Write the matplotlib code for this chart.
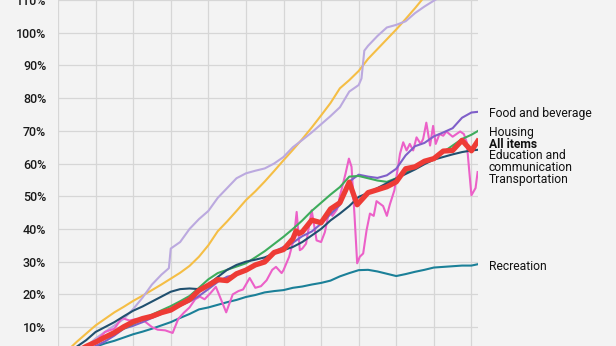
import matplotlib
matplotlib.use('Agg')
import matplotlib.pyplot as plt
import matplotlib.transforms as mtransforms
import numpy as np

# cumulative % change in US CPI components since Jan 1993
half_years = [1993.0, 1993.5, 1994.0, 1994.5, 1995.0, 1995.5, 1996.0, 1996.5,
              1997.0, 1997.5, 1998.0, 1998.5, 1999.0, 1999.5, 2000.0, 2000.5,
              2001.0, 2001.5, 2002.0, 2002.5, 2003.0, 2003.5, 2004.0, 2004.5,
              2005.0, 2005.5, 2006.0, 2006.5, 2007.0, 2007.5, 2008.0, 2008.5,
              2009.0, 2009.5, 2010.0, 2010.5, 2011.0, 2011.5, 2012.0, 2012.5,
              2013.0, 2013.5, 2014.0, 2014.5, 2015.0, 2015.33]

medical = [0, 2.8, 5.5, 8.0, 10.5, 12.5, 14.5, 16.2, 18.0, 19.6, 21.3, 23.0,
           24.8, 26.6, 28.7, 31.5, 35.0, 39.3, 42.3, 45.5, 48.8, 51.5, 54.5,
           57.7, 61.0, 64.2, 67.5, 71.0, 74.7, 78.5, 83.0, 85.5, 88.3, 92.0,
           95.0, 98.0, 101.0, 104.2, 107.5, 111.0, 113.5, 116.0, 118.0, 120.5,
           122.0, 123.5]

food = [0, 0.5, 1.6, 3.0, 4.2, 5.6, 7.4, 9.5, 10.4, 11.5, 12.8, 14.0, 15.5,
        16.5, 17.8, 19.5, 21.6, 23.8, 25.4, 26.0, 27.3, 28.8, 30.7, 33.0, 34.5,
        35.8, 37.8, 39.2, 41.6, 44.5, 47.3, 54.5, 56.6, 56.0, 55.6, 56.4, 58.4,
        62.5, 65.3, 66.3, 68.3, 69.5, 70.8, 74.0, 75.6, 75.8]

housing = [0, 1.3, 2.6, 4.0, 5.3, 6.6, 8.0, 9.5, 11.0, 12.4, 13.8, 15.1, 16.4,
           17.9, 19.5, 22.0, 24.6, 26.5, 27.5, 28.5, 29.5, 31.3, 33.2, 35.4,
           37.6, 40.0, 42.6, 45.5, 48.0, 50.5, 52.8, 56.0, 56.2, 55.5, 54.8,
           54.4, 55.5, 57.2, 58.5, 60.2, 61.8, 63.5, 65.5, 67.5, 68.8, 69.9]

education = [0, 2.0, 4.0, 6.0, 8.5, 10.0, 11.5, 13.3, 15.0, 16.3, 17.8, 19.3,
             20.8, 21.6, 21.8, 21.6, 23.0, 25.3, 27.5, 29.0, 30.0, 30.6, 31.3,
             32.5, 33.5, 34.5, 36.0, 38.0, 40.0, 42.6, 44.7, 47.0, 49.8, 51.0,
             52.5, 54.0, 55.4, 56.8, 58.2, 59.8, 61.2, 62.0, 62.8, 63.5, 64.0,
             64.2]

recreation = [0, 1.0, 2.0, 3.0, 4.0, 5.0, 5.8, 6.8, 7.8, 8.6, 9.5, 10.5, 11.5,
              12.8, 14.0, 15.4, 16.0, 16.8, 17.6, 18.3, 19.2, 19.8, 20.6, 21.0,
              21.3, 22.0, 22.4, 23.0, 23.5, 24.2, 25.5, 26.5, 27.4, 27.5, 27.0,
              26.3, 25.6, 26.2, 26.9, 27.5, 28.2, 28.4, 28.6, 28.8, 28.8, 29.2]

other_t = [1993.0, 1993.5, 1994.0, 1994.5, 1995.0, 1995.5, 1996.0, 1996.5,
           1997.0, 1997.5, 1998.0, 1998.5, 1998.9, 1999.0, 1999.5, 2000.0,
           2000.5, 2001.0, 2001.5, 2002.0, 2002.5, 2003.0, 2003.5, 2004.0,
           2004.5, 2005.0, 2005.5, 2006.0, 2006.5, 2007.0, 2007.5, 2008.0,
           2008.5, 2009.0, 2009.15, 2009.3, 2009.5, 2010.0, 2010.5, 2011.0,
           2011.5, 2012.0, 2012.5, 2013.0, 2013.5, 2014.0, 2014.5, 2015.0,
           2015.33]
other = [0, 1.5, 2.8, 4.0, 6.5, 8.5, 10.5, 12.5, 15.5, 19.0, 23.0, 26.0, 28.0,
         34.0, 36.0, 40.0, 43.0, 45.5, 49.5, 52.5, 55.5, 57.0, 57.8, 58.5, 60.0,
         62.0, 65.0, 67.2, 69.5, 72.0, 74.5, 77.2, 82.0, 84.0, 86.0, 94.5, 96.0,
         99.0, 101.6, 102.4, 103.5, 106.0, 108.0, 109.8, 111.5, 113.0, 114.5,
         116.0, 117.0]

all_t = [1993.0, 1993.5, 1994.0, 1994.5, 1995.0, 1995.5, 1996.0, 1996.5,
         1997.0, 1997.5, 1998.0, 1998.5, 1999.0, 1999.5, 2000.0, 2000.5,
         2001.0, 2001.5, 2002.0, 2002.5, 2003.0, 2003.5, 2004.0, 2004.5,
         2005.0, 2005.5, 2005.67, 2005.83, 2006.0, 2006.5, 2007.0, 2007.5,
         2008.0, 2008.5, 2008.92, 2009.5, 2010.0, 2010.5, 2011.0, 2011.5,
         2012.0, 2012.5, 2013.0, 2013.5, 2014.0, 2014.5, 2015.0, 2015.33]
all_items = [0, 1.3, 2.5, 4.1, 5.4, 6.9, 8.3, 10.1, 11.6, 12.6, 13.3, 14.4,
             15.2, 16.9, 18.4, 21.2, 22.8, 24.5, 24.2, 26.3, 27.4, 29.0, 29.9,
             32.8, 33.7, 37.0, 39.4, 38.6, 39.1, 42.7, 41.9, 46.1, 48.0, 54.3,
             47.4, 51.1, 52.0, 52.9, 54.4, 58.4, 59.0, 60.7, 61.5, 63.8, 64.0,
             67.1, 63.9, 66.8]

transport_t = [1993.0, 1993.5, 1994.0, 1994.5, 1995.0, 1995.5, 1996.0, 1996.4,
               1996.8, 1997.2, 1997.6, 1998.0, 1998.3, 1998.7, 1999.1, 1999.4,
               1999.7, 2000.0, 2000.3, 2000.55, 2000.8, 2001.1, 2001.4, 2001.6,
               2001.95, 2002.3, 2002.6, 2002.85, 2003.2, 2003.5, 2003.8, 2004.1,
               2004.4, 2004.6, 2004.9, 2005.0, 2005.3, 2005.55, 2005.7, 2005.87,
               2006.0, 2006.2, 2006.5, 2006.76, 2007.0, 2007.2, 2007.45, 2007.6,
               2007.85, 2008.0, 2008.3, 2008.48, 2008.62, 2008.78, 2008.92,
               2009.06, 2009.24, 2009.42, 2009.6, 2009.8, 2009.95, 2010.3,
               2010.5, 2010.66, 2010.9, 2011.2, 2011.37, 2011.55, 2011.72,
               2011.9, 2012.08, 2012.3, 2012.43, 2012.6, 2012.8, 2012.96,
               2013.1, 2013.3, 2013.5, 2013.67, 2014.0, 2014.4, 2014.6, 2014.75,
               2014.88, 2015.0, 2015.12, 2015.22, 2015.33]
transport = [0, 1.0, 1.0, 4.0, 5.5, 8.5, 9.5, 12.8, 12.0, 12.5, 11.8, 10.0,
             9.2, 9.0, 8.2, 12.5, 14.4, 16.0, 18.5, 19.3, 18.5, 20.3, 22.3,
             19.5, 14.5, 20.0, 21.0, 21.5, 25.0, 22.0, 22.5, 24.3, 27.5, 28.4,
             26.5, 27.4, 31.5, 37.0, 45.2, 33.5, 34.0, 35.5, 45.7, 36.5, 36.0,
             39.0, 46.0, 44.0, 46.0, 50.0, 56.9, 61.5, 59.0, 44.0, 29.5, 31.5,
             32.5, 39.6, 44.7, 44.0, 48.5, 47.0, 44.0, 47.5, 51.8, 63.0, 66.5,
             64.0, 66.0, 64.0, 68.0, 66.0, 67.5, 72.5, 65.5, 71.5, 66.0, 69.0,
             68.5, 69.8, 68.2, 69.8, 69.0, 66.5, 58.0, 50.3, 51.5, 52.5, 57.4]

# colours
c_medical = '#F5BE45'
c_other = '#BBA9DF'
c_food = '#7F5FC9'
c_housing = '#3EAC5C'
c_all = '#EE3B35'
c_edu = '#20506F'
c_trans = '#EC60C8'
c_rec = '#1B8098'

plt.rcParams['font.family'] = ['Roboto', 'DejaVu Sans']

fig = plt.figure(figsize=(6.16, 3.46), dpi=100)
fig.patch.set_facecolor('#F3F3F3')
ax = fig.add_axes([58 / 616, 0, 420 / 616, 1])
ax.set_facecolor('#F3F3F3')

lw = 1.5
ax.plot(half_years, recreation, color=c_rec, lw=lw, zorder=3)
ax.plot(half_years, medical, color=c_medical, lw=lw, zorder=3)
ax.plot(other_t, other, color=c_other, lw=lw, zorder=3)
ax.plot(transport_t, transport, color=c_trans, lw=lw, zorder=3)
ax.plot(half_years, food, color=c_food, lw=lw, zorder=3)
ax.plot(half_years, housing, color=c_housing, lw=lw, zorder=3)
ax.plot(half_years, education, color=c_edu, lw=lw, zorder=4)
ax.plot(all_t, all_items, color=c_all, lw=3.8, zorder=5)

ax.set_xlim(1993, 2015.35)
ax.set_ylim(4.21, 109.76)
ax.set_xticks(np.arange(1993, 2016, 2))
ax.set_xticklabels([])
ax.set_yticks(np.arange(10, 111, 10))
ax.set_yticklabels(['%d%%' % v for v in range(10, 111, 10)])
ax.tick_params(axis='both', length=0)
ax.tick_params(axis='y', pad=8.5, labelsize=9, labelcolor='#1A1A1A')
for lab in ax.get_yticklabels():
    lab.set_fontweight('medium')
ax.grid(True, color='#D6D6D6', lw=0.9)
ax.set_axisbelow(True)
for s in ax.spines.values():
    s.set_visible(False)

# right-hand labels
trans = mtransforms.blended_transform_factory(ax.transAxes, ax.transData)
labels = [('Food and beverage', 75.3, 'normal'),
          ('Housing', 69.6, 'normal'),
          ('All items', 65.9, 'bold'),
          ('Education and\ncommunication', 60.5, 'normal'),
          ('Transportation', 55.2, 'normal'),
          ('Recreation', 28.6, 'normal')]
for text, yv, wt in labels:
    ax.text(1.026, yv, text, transform=trans, fontsize=8.7, fontweight=wt,
            color='#111111', va='center', ha='left', clip_on=False,
            linespacing=0.92)

fig.savefig('out.png', dpi=100, facecolor=fig.get_facecolor())
